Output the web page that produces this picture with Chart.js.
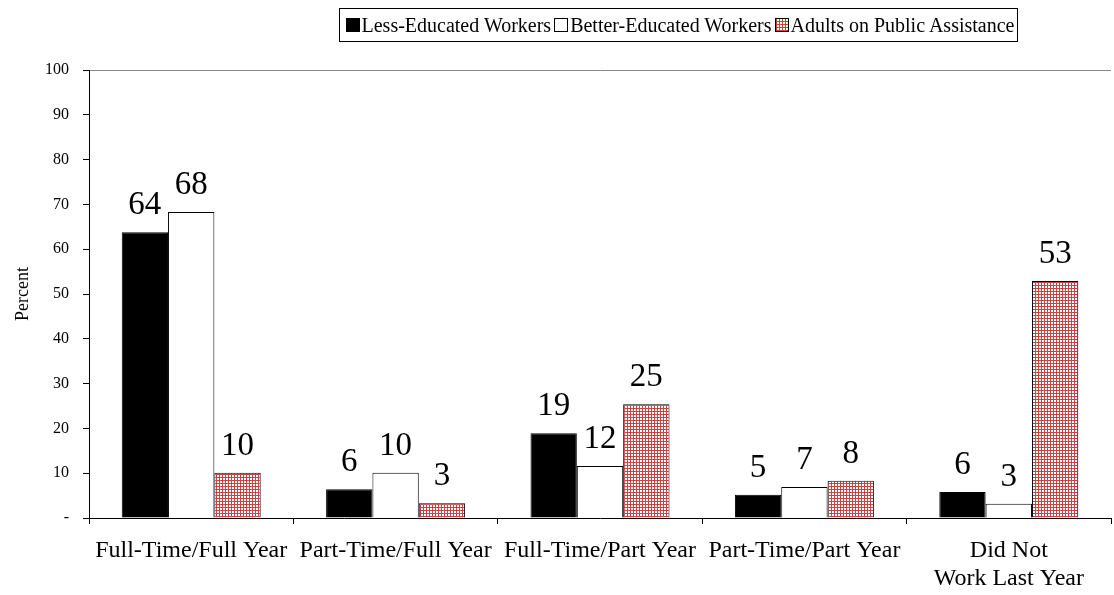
<!DOCTYPE html>
<html>
<head>
<meta charset="utf-8">
<script src="https://cdn.jsdelivr.net/npm/chart.js@4/dist/chart.umd.min.js"></script>
<style>
  html, body { margin: 0; padding: 0; background: #fff; }
  #wrap { position: relative; width: 1114px; height: 595px; }
  #legend {
    position: absolute; left: 339px; top: 8px; height: 34px; width: 679px;
    border: 1px solid #000; box-sizing: border-box;
    font-family: "Liberation Serif", "Times New Roman", serif; font-size: 20px;
    display: flex; align-items: center; justify-content: center; white-space: nowrap;
  }
  #legend span.box { display: inline-block; width: 14px; height: 14px; box-sizing: border-box;
    border: 1px solid #000; margin: 0 2px 0 3px; vertical-align: -1px; }
</style>
</head>
<body>
<div id="wrap">
  <canvas id="chart" width="1114" height="595"></canvas>
  <div id="legend"></div>
</div>
<script>
const categories = [
  "Full-Time/Full Year",
  "Part-Time/Full Year",
  "Full-Time/Part Year",
  "Part-Time/Part Year",
  ["Did Not", "Work Last Year"]
];
const seriesNames = ["Less-Educated Workers", "Better-Educated Workers", "Adults on Public Assistance"];
const lessEducated = [63.8, 6.4, 18.9, 5.2, 5.8];
const betterEducated = [68.3, 10.1, 11.6, 6.9, 3.2];
const publicAssistance = [10.1, 3.3, 25.4, 8.3, 52.9];
const yTicks = [0, 10, 20, 30, 40, 50, 60, 70, 80, 90, 100];

const FONT = "'Liberation Serif', 'Times New Roman', serif";
const RED = "rgb(195,70,70)";

// red grid hatch for the third series
function makeHatch() {
  const c = document.createElement("canvas");
  c.width = 3; c.height = 3;
  const g = c.getContext("2d");
  g.fillStyle = "#fff";
  g.fillRect(0, 0, 3, 3);
  g.fillStyle = RED;
  g.fillRect(0, 0, 3, 1);
  g.fillRect(0, 0, 1, 3);
  return g.createPattern(c, "repeat");
}
const hatch = makeHatch();

// legend as html
const legend = document.getElementById("legend");
const swatches = ["#000", "#fff",
  `repeating-linear-gradient(0deg, ${RED} 0 1px, transparent 1px 3px), repeating-linear-gradient(90deg, ${RED} 0 1px, #fff 1px 3px)`];
legend.innerHTML = seriesNames.map((n, i) =>
  `<span class="box" style="background:${swatches[i]}"></span>${n}`).join("");

const valueLabels = {
  id: "valueLabels",
  afterDatasetsDraw(chart) {
    const ctx = chart.ctx;
    ctx.save();
    ctx.font = "33px " + FONT;
    ctx.fillStyle = "#000";
    ctx.textAlign = "center";
    ctx.textBaseline = "alphabetic";
    chart.data.datasets.forEach((ds, di) => {
      chart.getDatasetMeta(di).data.forEach((bar, i) => {
        ctx.fillText(Math.round(ds.data[i]), bar.x, bar.y - 18);
      });
    });
    ctx.restore();
  }
};

new Chart(document.getElementById("chart"), {
  type: "bar",
  data: {
    labels: categories,
    datasets: [
      { label: seriesNames[0], data: lessEducated, backgroundColor: "#000", borderColor: "#000", borderWidth: 1 },
      { label: seriesNames[1], data: betterEducated, backgroundColor: "#fff", borderColor: "#000", borderWidth: 1 },
      { label: seriesNames[2], data: publicAssistance, backgroundColor: hatch, borderColor: "#000", borderWidth: 1 }
    ]
  },
  options: {
    responsive: false,
    animation: false,
    layout: { padding: { top: 70, right: 3, left: 0, bottom: 0 } },
    datasets: { bar: { categoryPercentage: 0.68, barPercentage: 1 } },
    plugins: { legend: { display: false }, tooltip: { enabled: false } },
    scales: {
      x: {
        grid: { drawOnChartArea: false, tickLength: 6, color: "#000", offset: true },
        border: { color: "#000" },
        ticks: { color: "#000", font: { family: FONT, size: 24 }, padding: 12, maxRotation: 0, autoSkip: false },
        afterFit(s) { s.height = 77; }
      },
      y: {
        min: 0, max: 100,
        afterBuildTicks(s) { s.ticks = yTicks.map(v => ({ value: v })); },
        grid: {
          tickLength: 6,
          tickColor: "#000",
          color: ctx => (ctx.tick && ctx.tick.value === 100 ? "#888" : "rgba(0,0,0,0)")
        },
        border: { color: "#000" },
        ticks: {
          color: "#000", font: { family: FONT, size: 16 }, padding: 14,
          callback: v => (v === 0 ? "-" : v)
        },
        title: { display: true, text: "Percent", color: "#000", font: { family: FONT, size: 18 }, padding: { top: 12, bottom: 0 } },
        afterFit(s) { s.width = 89; }
      }
    }
  },
  plugins: [valueLabels]
});
</script>
</body>
</html>
